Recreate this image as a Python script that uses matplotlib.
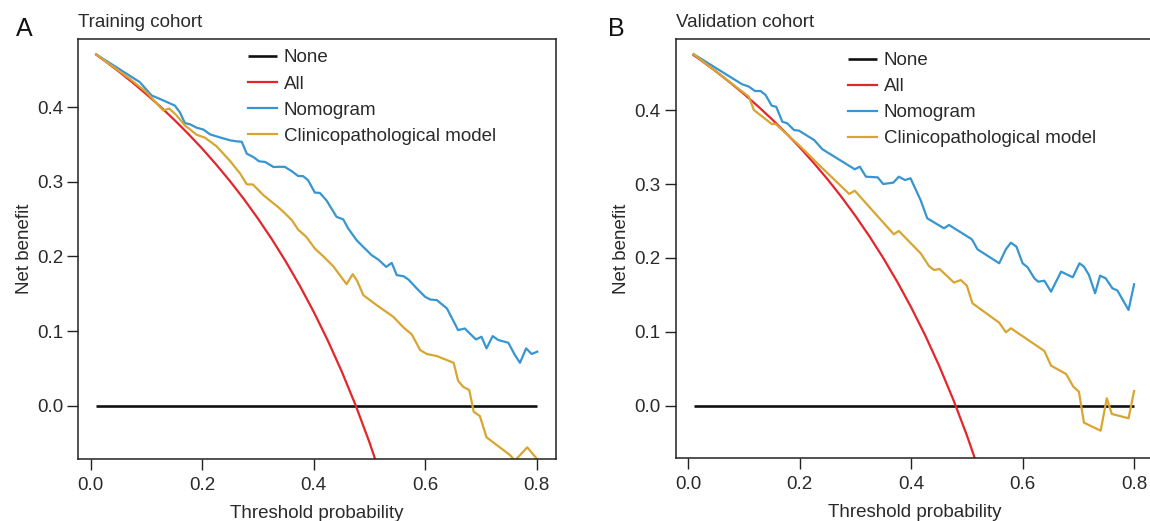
import matplotlib
matplotlib.use("Agg")
import matplotlib.pyplot as plt

plt.rcParams['font.family'] = ['Liberation Sans', 'DejaVu Sans']

# ---------------- data ----------------
labels = ["None", "All", "Nomogram", "Clinicopathological model"]
xticks = [0.0, 0.2, 0.4, 0.6, 0.8]
yticks = [0.0, 0.1, 0.2, 0.3, 0.4]

none_x = [0.01, 0.80]
none_y = [0.0, 0.0]

# Panel A - Training cohort
a_all_x = [0.01, 0.025, 0.05, 0.075, 0.10, 0.125, 0.15, 0.175, 0.20, 0.225, 0.25,
           0.275, 0.30, 0.325, 0.35, 0.375, 0.40, 0.425, 0.45, 0.475, 0.50, 0.525]
a_all_y = [0.4702, 0.4621, 0.4479, 0.4330, 0.4172, 0.4006, 0.3829, 0.3642, 0.3444, 0.3232, 0.3007,
           0.2766, 0.2507, 0.2230, 0.1931, 0.1608, 0.1258, 0.0878, 0.0464, 0.0010, -0.0490, -0.1042]

a_nom_x = [0.01, 0.088, 0.109, 0.127, 0.151, 0.160, 0.169, 0.178, 0.190, 0.202, 0.214, 0.229,
           0.250, 0.262, 0.271, 0.280, 0.292, 0.302, 0.313, 0.328, 0.336, 0.348, 0.361, 0.372,
           0.381, 0.390, 0.402, 0.411, 0.423, 0.441, 0.453, 0.462, 0.477, 0.489, 0.504, 0.516,
           0.530, 0.540, 0.549, 0.561, 0.570, 0.585, 0.600, 0.609, 0.621, 0.639, 0.659, 0.671,
           0.680, 0.691, 0.701, 0.710, 0.721, 0.731, 0.749, 0.761, 0.770, 0.781, 0.791, 0.801]
a_nom_y = [0.4705, 0.4335, 0.4157, 0.4100, 0.4020, 0.3930, 0.3786, 0.3770, 0.3724, 0.3700, 0.3635, 0.3600,
           0.3555, 0.3541, 0.3535, 0.3376, 0.3330, 0.3274, 0.3265, 0.3197, 0.3200, 0.3200, 0.3140, 0.3077,
           0.3075, 0.3020, 0.2855, 0.2850, 0.2750, 0.2530, 0.2496, 0.2373, 0.2217, 0.2127, 0.2016, 0.1957,
           0.1860, 0.1913, 0.1749, 0.1735, 0.1690, 0.1570, 0.1458, 0.1423, 0.1414, 0.1303, 0.1013, 0.1035,
           0.0968, 0.0888, 0.0924, 0.0768, 0.0933, 0.0880, 0.0844, 0.0678, 0.0575, 0.0768, 0.0693, 0.0724]

a_cli_x = [0.01, 0.07, 0.10, 0.130, 0.141, 0.154, 0.169, 0.190, 0.205, 0.226, 0.250, 0.268,
           0.280, 0.291, 0.310, 0.336, 0.346, 0.361, 0.372, 0.387, 0.402, 0.417, 0.435, 0.459,
           0.470, 0.478, 0.489, 0.513, 0.543, 0.561, 0.576, 0.591, 0.603, 0.621, 0.651, 0.659,
           0.668, 0.679, 0.687, 0.698, 0.710, 0.752, 0.761, 0.783, 0.801]
a_cli_y = [0.4705, 0.4380, 0.4200, 0.3956, 0.3980, 0.3890, 0.3755, 0.3630, 0.3590, 0.3474, 0.3278, 0.3110,
           0.2966, 0.2963, 0.2819, 0.2662, 0.2595, 0.2484, 0.2360, 0.2260, 0.2106, 0.2003, 0.1869, 0.1628,
           0.1762, 0.1672, 0.1481, 0.1347, 0.1190, 0.1049, 0.0955, 0.0745, 0.0693, 0.0665, 0.0575, 0.0335,
           0.0254, 0.0210, -0.0080, -0.0138, -0.0423, -0.0660, -0.0735, -0.0557, -0.0717]

# Panel B - Validation cohort
b_all_x = a_all_x
b_all_y = [0.4747, 0.4667, 0.4526, 0.4378, 0.4222, 0.4057, 0.3882, 0.3697, 0.3500, 0.3290, 0.3067,
           0.2828, 0.2571, 0.2296, 0.2000, 0.1680, 0.1333, 0.0957, 0.0545, 0.0095, -0.0400, -0.0947]

b_nom_x = [0.01, 0.073, 0.097, 0.109, 0.120, 0.130, 0.139, 0.150, 0.158, 0.169, 0.178, 0.190,
           0.199, 0.226, 0.241, 0.299, 0.308, 0.319, 0.340, 0.350, 0.368, 0.378, 0.389, 0.399,
           0.417, 0.429, 0.459, 0.468, 0.509, 0.519, 0.558, 0.570, 0.579, 0.589, 0.600, 0.609,
           0.621, 0.628, 0.639, 0.651, 0.669, 0.690, 0.702, 0.710, 0.719, 0.730, 0.739, 0.749,
           0.761, 0.770, 0.790, 0.800]
b_nom_y = [0.4760, 0.4464, 0.4352, 0.4321, 0.4261, 0.4261, 0.4207, 0.4062, 0.4048, 0.3846, 0.3823, 0.3733,
           0.3724, 0.3598, 0.3472, 0.3201, 0.3236, 0.3101, 0.3092, 0.3002, 0.3020, 0.3101, 0.3056, 0.3079,
           0.2785, 0.2537, 0.2402, 0.2447, 0.2253, 0.2118, 0.1928, 0.2118, 0.2207, 0.2153, 0.1928, 0.1874,
           0.1725, 0.1679, 0.1692, 0.1544, 0.1815, 0.1739, 0.1928, 0.1883, 0.1770, 0.1522, 0.1761, 0.1725,
           0.1590, 0.1560, 0.1296, 0.1644]

b_cli_x = [0.01, 0.109, 0.118, 0.150, 0.157, 0.200, 0.241, 0.289, 0.299, 0.369, 0.378, 0.417,
           0.432, 0.441, 0.451, 0.477, 0.489, 0.500, 0.510, 0.558, 0.570, 0.579, 0.639, 0.651,
           0.678, 0.691, 0.701, 0.710, 0.740, 0.751, 0.760, 0.790, 0.800]
b_cli_y = [0.4760, 0.4184, 0.4004, 0.3815, 0.3815, 0.3520, 0.3215, 0.2867, 0.2911, 0.2321, 0.2366, 0.2064,
           0.1892, 0.1837, 0.1851, 0.1666, 0.1702, 0.1625, 0.1387, 0.1124, 0.0994, 0.1048, 0.0741, 0.0542,
           0.0429, 0.0257, 0.0190, -0.0230, -0.0339, 0.0100, -0.0112, -0.0171, 0.0199]

# ---------------- styling ----------------
C_NONE = "#111111"
C_ALL = "#E3262B"
C_NOM = "#3795D0"
C_CLI = "#D9A531"
TXT = "#2A2A2A"
FS = 13.5

fig = plt.figure(figsize=(11.5, 5.21), dpi=100)
W, H = 1150.0, 521.0

def axes_px(left, top, right, bottom):
    return fig.add_axes([left / W, 1 - bottom / H, (right - left) / W, (bottom - top) / H])

axA = axes_px(78.3, 39.3, 556.0, 458.6)
axB = axes_px(675.7, 39.4, 1153.4, 458.1)

panels = [
    (axA, "Training cohort", a_all_x, a_all_y, a_nom_x, a_nom_y, a_cli_x, a_cli_y,
     (-0.0708, 0.4908), 0.355, 0.976),
    (axB, "Validation cohort", b_all_x, b_all_y, b_nom_x, b_nom_y, b_cli_x, b_cli_y,
     (-0.0710, 0.4960), 0.361, 0.970),
]

for ax, title, ax_x, ax_y, nx, ny, cx, cy, ylim, lgx, lgy in panels:
    ax.plot(none_x, none_y, color=C_NONE, lw=1.9, label=labels[0], solid_capstyle="butt")
    ax.plot(ax_x, ax_y, color=C_ALL, lw=1.6, label=labels[1])
    ax.plot(nx, ny, color=C_NOM, lw=1.6, label=labels[2])
    ax.plot(cx, cy, color=C_CLI, lw=1.6, label=labels[3])
    ax.set_xlim(-0.0222, 0.8346)
    ax.set_ylim(*ylim)
    ax.set_xticks(xticks)
    ax.set_xticklabels([f"{v:.1f}" for v in xticks])
    ax.set_yticks(yticks)
    ax.set_yticklabels([f"{v:.1f}" for v in yticks])
    ax.tick_params(direction="out", length=8, width=1.0, color="#222222",
                   labelsize=FS, labelcolor=TXT, pad=3)
    ax.tick_params(axis="x", pad=5)
    for s in ax.spines.values():
        s.set_color("#222222")
        s.set_linewidth(1.1)
    ax.set_xlabel("Threshold probability", fontsize=FS, color=TXT, labelpad=8)
    ax.set_ylabel("Net benefit", fontsize=FS, color=TXT, labelpad=3)
    ax.text(0.0, 1.0286, title, transform=ax.transAxes, fontsize=FS, color=TXT,
            ha="left", va="baseline")
    leg = ax.legend(loc="upper left", bbox_to_anchor=(lgx, lgy), frameon=False,
                    fontsize=FS, handlelength=1.55, handletextpad=0.35,
                    labelspacing=0.48, borderpad=0, borderaxespad=0)
    for t in leg.get_texts():
        t.set_color(TXT)

fig.text(16 / W, 1 - 29 / H, "A", fontsize=18, color="#111111", ha="left", va="center")
fig.text(608 / W, 1 - 29 / H, "B", fontsize=18, color="#111111", ha="left", va="center")

fig.savefig("out.png", dpi=100)
